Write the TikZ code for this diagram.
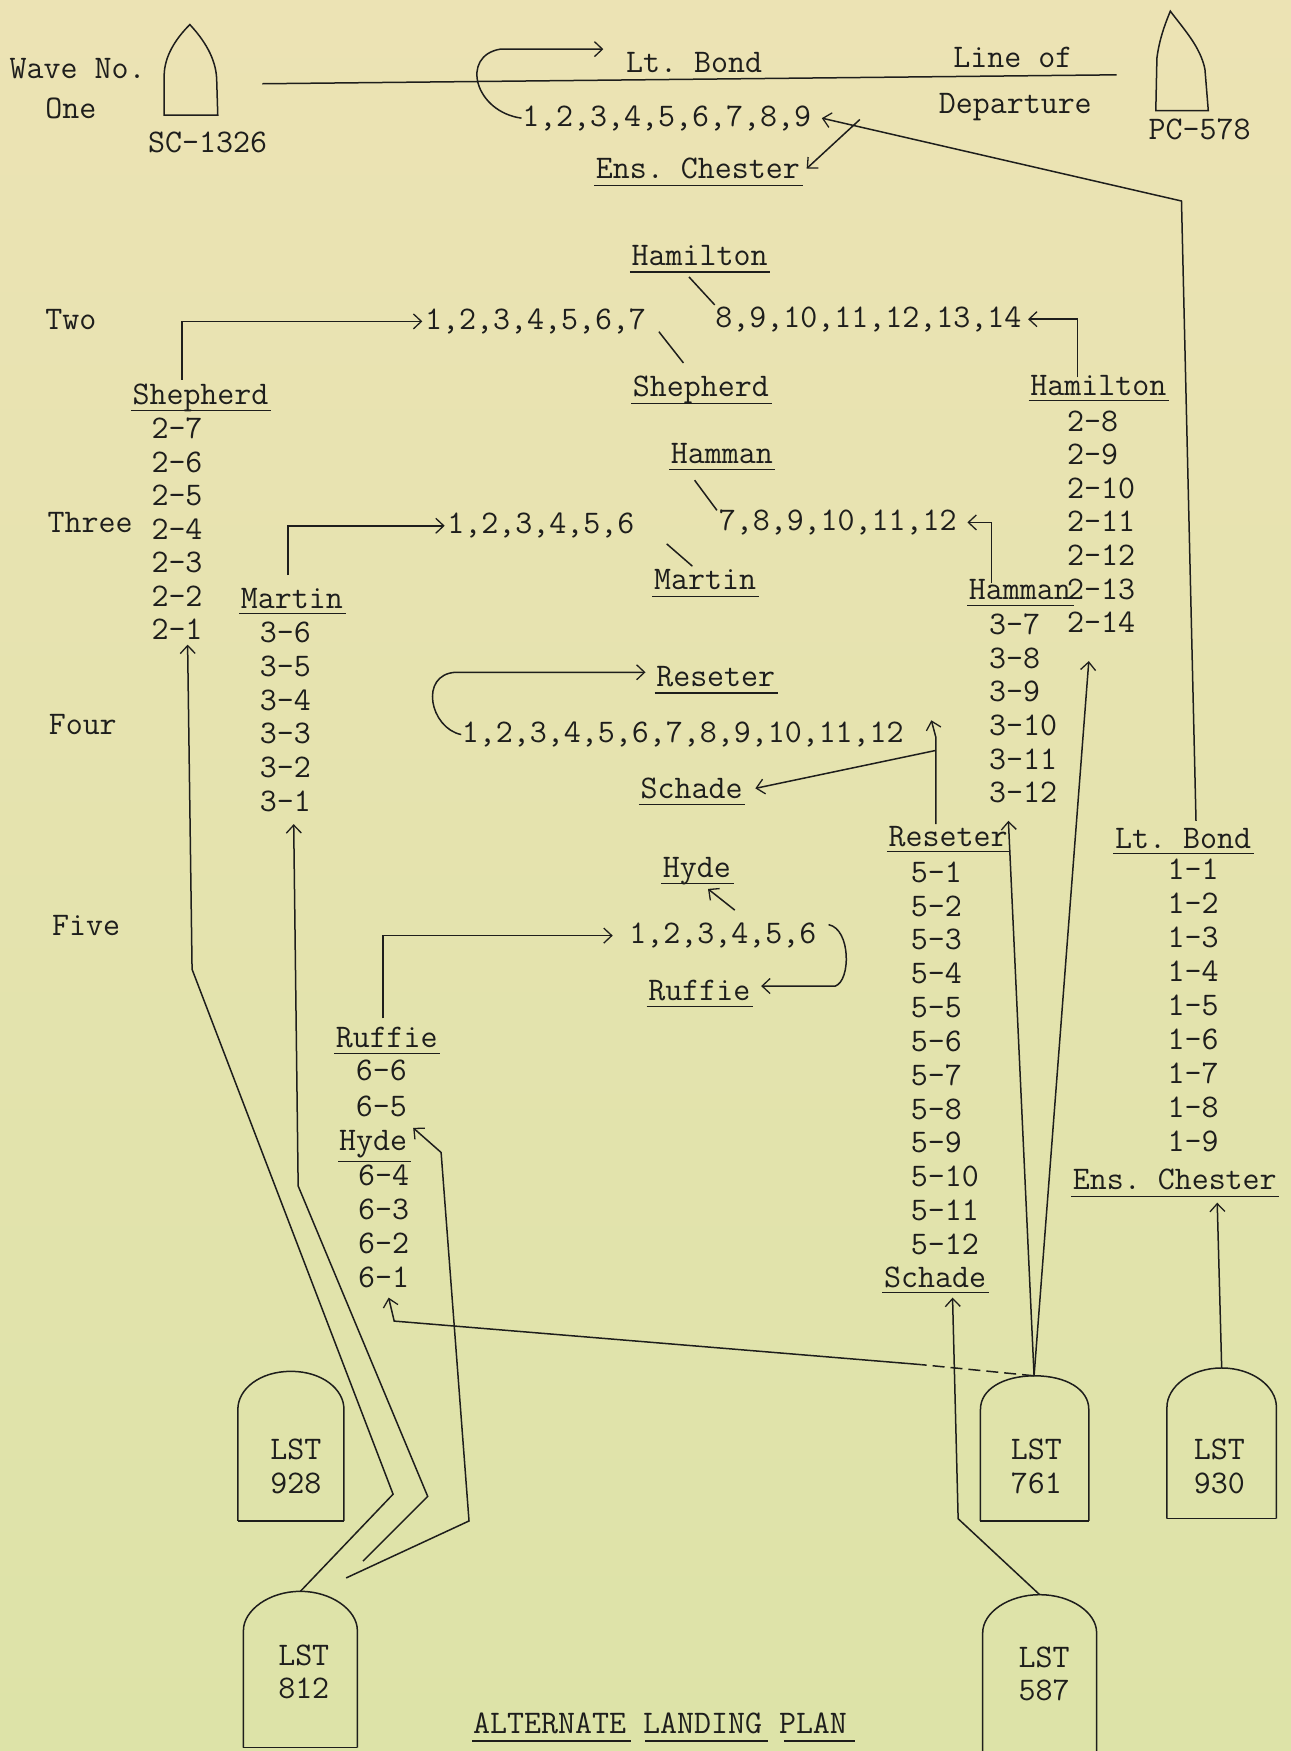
\documentclass[tikz,border=0pt]{standalone}
\usepackage{fontspec}
\usetikzlibrary{arrows.meta,calc}
\definecolor{ink}{RGB}{30,30,28}
\definecolor{papertop}{RGB}{236,227,180}
\definecolor{paperbot}{RGB}{221,227,168}
\newcommand\ulin[2][6pt]{\draw[line width=1.5pt] ([yshift=-#1,xshift=-1pt]#2.base west) -- ([yshift=-#1,xshift=2pt]#2.base east);}
\newcommand\mylst[5]{\draw (#1,#5) -- (#1,#4) .. controls (#1,{#4-18}) and ({(#1+#2)/2-28},#3) .. ({(#1+#2)/2},#3) .. controls ({(#1+#2)/2+28},#3) and (#2,{#4-18}) .. (#2,#4) -- (#2,#5);}
\begin{document}
\begin{tikzpicture}[x=1.1168pt,y=-1.1168pt,line width=1.5pt,color=ink,
  every node/.style={font=\fontsize{33}{34}\selectfont\ttfamily\frenchspacing,text=ink,inner sep=0pt,anchor=base west},
  lstlab/.style={anchor=center,align=center,font=\fontsize{33}{33.5}\selectfont\ttfamily},
  arr/.style={-{Straight Barb[length=8pt,width=15pt,line width=1.3pt]}}]
\shade[top color=papertop,bottom color=paperbot] (0,0) rectangle (1156,1568);
\useasboundingbox (0,0) rectangle (1156,1568);

% ---------- Wave One ----------
\node (wave) at (8,70) {Wave No.};
\node (one) at (40,106) {One};
\node (sc) at (132,137) {SC-1326};
\draw (147,103) -- (147,68) .. controls (147,50) and (158,34) .. (170,22) .. controls (183,36) and (193,52) .. (194,70) -- (195,103) -- cycle;
\node (ltb) at (560,65) {Lt. Bond};
\node (lineof) at (853,60) {Line of};
\node (dep) at (840,102) {Departure};
\node (pc) at (1028,125) {PC-578};
\draw (1035,99) -- (1036,52) .. controls (1038,36) and (1043,22) .. (1048,10) .. controls (1060,26) and (1075,42) .. (1079,62) -- (1082,99) -- cycle;
\draw (235,75) -- (1000,67);
\node (l1) at (467,113) {1,2,3,4,5,6,7,8,9};
\node (ches) at (533,160) {Ens. Chester}; \ulin[7pt]{ches}
\draw[arr] (l1.west) .. controls (425,100) and (412,50) .. (448,44) -- ([xshift=-22pt]ltb.west |- 0,44);

% ---------- Wave Two ----------
\node (two) at (40,295) {Two};
\node (hamt) at (565,238) {Hamilton}; \ulin{hamt}
\node (l2a) at (380,295) {1,2,3,4,5,6,7};
\node (l2b) at (640,293) {8,9,10,11,12,13,14};
\node (shepm) at (566,355) {Shepherd}; \ulin[7pt]{shepm}
\node (shepc) at (118,362) {Shepherd}; \ulin{shepc}
\foreach \t [count=\i from 0] in {2-7,2-6,2-5,2-4,2-3,2-2,2-1}
  \node (sh\i) at (135,{393+30*\i}) {\t};
\node (three) at (42,477) {Three};
\node (hamc) at (922,354) {Hamilton}; \ulin[5pt]{hamc}
\foreach \t [count=\i from 0] in {2-8,2-9,2-10,2-11,2-12,2-13,2-14}
  \node (hc\i) at (955,{386+30.1*\i}) {\t};
\coordinate (s2) at (163,340);
\draw[arr] (s2) |- ([xshift=-2pt]l2a.west);
\draw (617,248) -- (640,273);
\draw (590,297) -- (612,325);
\coordinate (h2) at (965,338);
\draw[arr] (h2) |- ([xshift=6pt]l2b.east);

% ---------- Wave Three ----------
\node (hamm) at (600,415) {Hamman}; \ulin{hamm}
\node (l3a) at (400,478) {1,2,3,4,5,6};
\node (l3b) at (643,475) {7,8,9,10,11,12};
\node (marm) at (585,528) {Martin}; \ulin[7pt]{marm}
\node (marc) at (215,545) {Martin}; \ulin[5pt]{marc}
\foreach \t [count=\i from 0] in {3-6,3-5,3-4,3-3,3-2,3-1}
  \node (mc\i) at (232,{575+30.4*\i}) {\t};
\node (hmc) at (867,537) {Hamman}; \ulin[6pt]{hmc}
\foreach \t [count=\i from 0] in {3-7,3-8,3-9,3-10,3-11,3-12}
  \node (hm\i) at (885,{568+30.2*\i}) {\t};
\coordinate (m3) at (258,515);
\draw[arr] (m3) |- ([xshift=-2pt]l3a.west);
\draw (622,430) -- (642,457);
\draw (597,487) -- (620,507);
\coordinate (hh3) at (888,522);
\draw[arr] (hh3) |- ([xshift=10pt]l3b.east);

% ---------- Wave Four ----------
\node (four) at (43,658) {Four};
\node (resm) at (587,615) {Reseter}; \ulin{resm}
\node (l4) at (413,665) {1,2,3,4,5,6,7,8,9,10,11,12};
\node (schm) at (573,715) {Schade}; \ulin[6pt]{schm}
\node (resc) at (795,758) {Reseter}; \ulin[5pt]{resc}
\foreach \t [count=\i from 0] in {5-1,5-2,5-3,5-4,5-5,5-6,5-7,5-8,5-9,5-10,5-11,5-12}
  \node (rc\i) at (815,{790+30.3*\i}) {\t};
\node (schc) at (791,1153) {Schade}; \ulin[5pt]{schc}
\draw[arr] (l4.west) .. controls (385,652) and (375,604) .. (408,602) -- ([xshift=-10pt]resm.west |- 0,602);
\coordinate (r4) at (838,738);
\draw[arr] (r4) -- (838,660) -- (834,645);
\draw[arr] (838,672) -- ([xshift=12pt]schm.east);

% ---------- Wave Five ----------
\node (five) at (46,838) {Five};
\node (hydm) at (593,786) {Hyde}; \ulin{hydm}
\node (l5) at (563,845) {1,2,3,4,5,6};
\node (rufm) at (580,896) {Ruffie}; \ulin[6pt]{rufm}
\node (rufc) at (300,938) {Ruffie}; \ulin[6pt]{rufc}
\node (r66) at (318,968) {6-6};
\node (r65) at (318,1000) {6-5};
\node (hydc) at (303,1030) {Hyde};
\draw[line width=1.5pt] (303,1040) -- (368,1040);
\foreach \t [count=\i from 0] in {6-4,6-3,6-2,6-1}
  \node (hy\i) at (320,{1062+30.2*\i}) {\t};
\coordinate (f5) at (343,912);
\draw[arr] (f5) |- ([xshift=-16pt]l5.west);
\draw[arr] (658,815) -- (634,796);
\draw[arr] (742,828) .. controls (762,832) and (762,878) .. (748,883) -- ([xshift=10pt]rufm.east |- 0,883);

% ---------- Wave One (beach) ----------
\node (ltbc) at (998,760) {Lt. Bond}; \ulin[5pt]{ltbc}
\foreach \t [count=\i from 0] in {1-1,1-2,1-3,1-4,1-5,1-6,1-7,1-8,1-9}
  \node (lb\i) at (1045,{788+30.4*\i}) {\t};
\node (chesc) at (960,1065) {Ens. Chester}; \ulin[7pt]{chesc}
\coordinate (lbtop) at (1071,735);
\coordinate (lbbend) at (1058,180);
\draw[arr] (lbtop) -- (lbbend) -- ([xshift=10pt]l1.east);
\draw[arr] (770,107) -- ([xshift=6pt]ches.east);

% ---------- LSTs ----------
\mylst{213}{308}{1228}{1262}{1362}  \draw (213,1362) -- (308,1362);
\mylst{218}{320}{1425}{1460}{1565}  \draw (218,1565) -- (320,1565);
\mylst{878}{975}{1232}{1262}{1362}  \draw (878,1362) -- (975,1362);
\mylst{1045}{1143}{1225}{1260}{1360} \draw (1045,1360) -- (1143,1360);
\mylst{880}{982}{1428}{1462}{1568}
\node[lstlab] (t928) at (265,1313) {LST\\928};
\node[lstlab] (t812) at (272,1497) {LST\\812};
\node[lstlab] (t761) at (928,1313) {LST\\761};
\node[lstlab] (t930) at (1092,1313) {LST\\930};
\node[lstlab] (t587) at (935,1499) {LST\\587};
\coordinate (a812) at (269,1425);
\coordinate (a761) at (926,1232);
\coordinate (a930) at (1094,1225);
\coordinate (a587) at (931,1428);

\draw[arr] (a812) -- (352,1338) -- (172,868) -- ([yshift=-4pt]sh6.south -| 168,0);
\draw[arr] (325,1398) -- (383,1340) -- (267,1062) -- (263,738);
\draw[arr] (310,1413) -- (420,1362) -- (395,1032) -- (370,1010);
\draw[arr] (a761) -- (975,592);
\draw[arr] (a761) -- (903,735);
\draw[dash pattern=on 12pt off 6pt] (a761) -- (825,1222);
\draw[arr] (825,1222) -- (353,1183) -- (348,1162);
\draw[arr] (a587) -- (858,1360) -- (853,1162);
\draw[arr] (a930) -- (1090,1077);

% ---------- Title ----------
\node (title) at (423,1552) {ALTERNATE LANDING PLAN};
\draw[line width=1.5pt] (423,1559) -- (565,1559);
\draw[line width=1.5pt] (578,1559) -- (688,1559);
\draw[line width=1.5pt] (702,1559) -- (766,1559);
\end{tikzpicture}
\end{document}
